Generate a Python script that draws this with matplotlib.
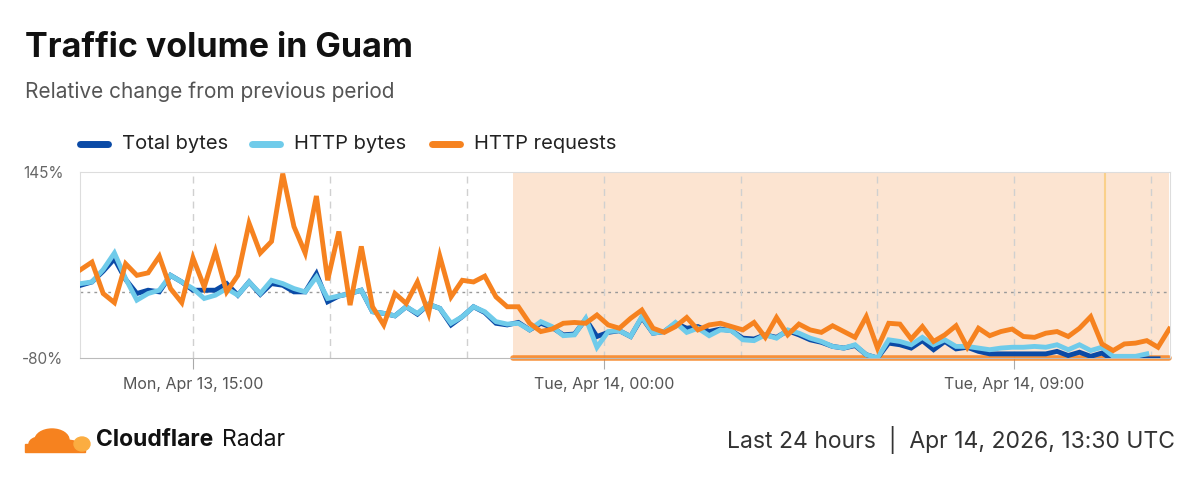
import matplotlib
matplotlib.use("Agg")
import matplotlib.pyplot as plt
from matplotlib.patches import Ellipse, Rectangle
import numpy as np
import pandas as pd

plt.rcParams['font.family'] = ['Inter', 'DejaVu Sans']

title = "Traffic volume in Guam"
subtitle = "Relative change from previous period"
series_names = ["Total bytes", "HTTP bytes", "HTTP requests"]

http_requests = [27, 36, -2, -13, 34, 20, 23, 43, 4, -13, 41, 6, 49, 0, 20, 83, 47, 61, 143, 79,
                 47, 116, 14, 73, -16, 55, -18, -40, -2, -14, 12, -26, 43, -6, 14, 12, 19, -6, -18,
                 -18, -38, -48, -45, -38, -37, -38, -28, -40, -44, -32, -22, -44, -49, -42, -31, -46, -40, -38, -42,
                 -46, -37, -55, -31, -52, -39, -46, -49, -41, -48, -55, -30, -68, -38, -39, -57, -42, -60, -52, -41,
                 -67, -44, -53, -48, -45, -54, -55, -50, -48, -54, -44, -30, -63, -71, -63, -62, -59, -67, -45]
http_bytes = [10, 12, 27, 47, 16, -10, -2, 2, 20, 12, 4, -8, -4, 4, -4, 12, -2, 14, 10, 4,
              0, 18, -8, -5, -2, 2, -24, -26, -29, -18, -26, -15, -20, -38, -30, -18, -24, -36, -39,
              -38, -46, -36, -42, -53, -52, -32, -67, -48, -47, -54, -30, -50, -48, -37, -49, -44, -53, -46, -47,
              -58, -59, -52, -56, -46, -50, -56, -60, -66, -68, -64, -76, -80, -58, -60, -64, -55, -64, -58, -66,
              -66, -68, -70, -68, -67, -67, -66, -67, -64, -70, -64, -71, -67, -78, -78, -78, -75, None, None]
total_bytes = [8, 12, 25, 40, 15, -2, 2, 0, 20, 12, 2, 2, 2, 10, -4, 12, -3, 10, 8, 0,
               0, 22, -12, -5, -2, 2, -24, -26, -29, -18, -27, -15, -20, -40, -30, -18, -25, -38, -40,
               -37, -46, -38, -43, -52, -51, -33, -54, -49, -47, -54, -31, -50, -48, -38, -44, -42, -48, -45, -47,
               -56, -57, -52, -55, -47, -52, -58, -61, -66, -68, -65, -76, -80, -62, -64, -68, -59, -70, -60, -69,
               -67, -72, -75, -75, -75, -75, -75, -75, -72, -77, -73, -78, -74, -82, -82, -82, -81, -81, None]

start_time = "2026-04-13 12:32"
end_time = "2026-04-14 12:24"
shade_start = "2026-04-13 22:00"
marker_time = "2026-04-14 11:00"
y_ticks = [-80, 145]
x_label_ticks = ["2026-04-13 15:00", "2026-04-14 00:00", "2026-04-14 09:00"]
x_label_texts = ["Mon, Apr 13, 15:00", "Tue, Apr 14, 00:00", "Tue, Apr 14, 09:00"]

n = len(http_requests)
t = pd.to_datetime(np.linspace(pd.Timestamp(start_time).value, pd.Timestamp(end_time).value, n))

def arr(v):
    return np.array([np.nan if x is None else x for x in v], dtype=float)

C_DARK = "#0A4AA6"
C_LIGHT = "#6FCBEA"
C_OR = "#F6821F"

fig = plt.figure(figsize=(12, 4.79), dpi=100)
ax = fig.add_axes([80/1200, 1-358/479, 1090/1200, 186/479])

ax.axvspan(pd.Timestamp(shade_start), t[-1], color="#FCE4D1", zorder=0, lw=0)
ax.axvline(pd.Timestamp(marker_time), color="#FAD08A", lw=1.5, zorder=1)
ax.plot([pd.Timestamp(shade_start), t[-1]], [-80, -80], color=C_OR, lw=4, alpha=0.85, zorder=2,
        solid_capstyle="round", clip_on=False)
ax.axhline(0, color="#999999", lw=1, ls=(0, (2, 3)), zorder=1)

grid_times = pd.date_range("2026-04-13 15:00", "2026-04-14 12:00", freq="3h")
for g in grid_times:
    ax.axvline(g, color="#D0D0D0", lw=1, ls=(0, (5, 4)), zorder=1)

ax.plot(t, arr(total_bytes), color=C_DARK, lw=3.5, zorder=3, solid_joinstyle="miter")
ax.plot(t, arr(http_bytes), color=C_LIGHT, lw=3.5, zorder=4, solid_joinstyle="miter")
ax.plot(t, arr(http_requests), color=C_OR, lw=3.5, zorder=5, solid_joinstyle="miter")

ax.set_xlim(t[0] - pd.Timedelta(minutes=1), t[-1] + pd.Timedelta(minutes=1))
ax.set_ylim(-80, 145)
ax.set_yticks(y_ticks)
ax.set_yticklabels([f"{v}%" for v in y_ticks], color="#666666", fontsize=11)
ax.set_xticks(pd.to_datetime(x_label_ticks))
ax.set_xticklabels(x_label_texts, color="#555555", fontsize=11.5)
ax.tick_params(axis="y", length=0, pad=12)
ax.tick_params(axis="x", length=8, color="#AAAAAA", pad=6)
for s in ax.spines.values():
    s.set_color("#DDDDDD")
ax.spines["bottom"].set_color("#BBBBBB")

fig.text(25/1200, 1-48/479, title, fontsize=24.5, fontweight="bold", va="center", color="#111111")
fig.text(25/1200, 1-92/479, subtitle, fontsize=15, va="center", color="#555555")

for name, col, lx in zip(series_names, [C_DARK, C_LIGHT, C_OR], [80, 252, 432]):
    fig.add_artist(plt.Line2D([lx/1200, (lx+28)/1200], [1-144/479]*2, color=col, lw=5,
                              solid_capstyle="round", transform=fig.transFigure))
    fig.text((lx+42)/1200, 1-144/479, name, fontsize=14.5, va="center", color="#222222")

# Cloud logo
for (cx, cy, w, h) in [(52, 440, 34, 22), (40, 444, 22, 14), (66, 446, 28, 12)]:
    fig.add_artist(Ellipse((cx/1200, 1-cy/479), w/1200, h/479, color=C_OR, transform=fig.transFigure))
fig.add_artist(Rectangle((25/1200, 1-452/479), 60/1200, 8/479, color=C_OR, transform=fig.transFigure))
fig.add_artist(Ellipse((82/1200, 1-444/479), 16/1200, 14/479, color="#FBAD41", transform=fig.transFigure))

fig.text(96/1200, 1-440/479, "Cloudflare", fontsize=16.5, fontweight="bold", va="center", color="#111111")
fig.text(222/1200, 1-440/479, "Radar", fontsize=16.5, va="center", color="#111111")
fig.text(1175/1200, 1-440/479, "Last 24 hours  |  Apr 14, 2026, 13:30 UTC", fontsize=16.5,
         va="center", ha="right", color="#333333")

fig.savefig("out.png", dpi=100)
